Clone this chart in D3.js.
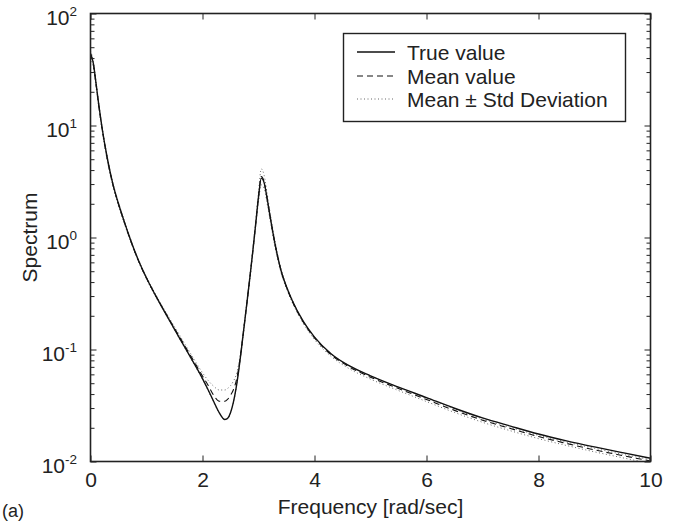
<!DOCTYPE html>
<html><head><meta charset="utf-8">
<script src="https://cdn.jsdelivr.net/npm/d3@7"></script>
<style>
html,body{margin:0;padding:0;background:#fff;}
svg{display:block;}
text{font-family:"Liberation Sans",Arial,Helvetica,sans-serif;fill:#222;}
</style></head>
<body>
<svg id="chart" width="686" height="526"></svg>
<script>
// ---- data ----
const freq = [0,0.05,0.1,0.15,0.2,0.3,0.4,0.5,0.6,0.7,0.8,0.9,1.0,1.2,1.4,1.6,1.8,
  2.0,2.1,2.2,2.3,2.4,2.45,2.5,2.55,2.6,2.65,2.7,
  2.75,2.8,2.85,2.9,2.95,3.0,3.05,3.1,3.15,3.2,3.3,3.4,3.5,3.6,
  3.8,4.0,4.3,4.6,5.0,5.5,6.0,6.5,7.0,7.5,8.0,8.5,9.0,9.5,10];
const trueValue = [44,36,23.5,15,10,5.1,3.0,2.0,1.4,1.0,0.733,0.556,0.435,0.28,0.186,0.124,0.083,
  0.055,0.0437,0.0343,0.0272,0.0237,0.0243,0.0272,0.0335,0.0452,0.0668,0.106,
  0.172,0.279,0.457,0.767,1.32,2.29,3.39,3.09,2.29,1.62,0.851,0.513,0.363,0.275,
  0.178,0.129,0.0912,0.0724,0.0582,0.0462,0.0372,0.0299,0.0245,0.0207,0.0176,0.0153,0.0135,0.0120,0.0107];
const meanValue = [43,35.5,23.2,14.8,9.9,5.05,2.97,1.98,1.39,0.99,0.728,0.553,0.434,0.281,0.188,0.127,0.086,
  0.058,0.048,0.039,0.0345,0.0345,0.036,0.039,0.0435,0.052,0.07,0.107,
  0.172,0.279,0.457,0.77,1.33,2.33,3.5,3.15,2.3,1.62,0.848,0.51,0.36,0.272,
  0.175,0.127,0.0895,0.0708,0.0566,0.0448,0.0358,0.0286,0.0234,0.0197,0.0167,0.0145,0.0127,0.0113,0.0101];
const upperValue = [46,38,24.5,15.5,10.3,5.25,3.08,2.05,1.43,1.02,0.745,0.565,0.443,0.288,0.194,0.132,0.09,
  0.062,0.053,0.047,0.0435,0.0435,0.045,0.0475,0.052,0.059,0.076,0.112,
  0.178,0.29,0.475,0.8,1.4,2.55,4.1,3.6,2.55,1.75,0.9,0.53,0.372,0.28,
  0.178,0.1295,0.0915,0.0725,0.058,0.046,0.0368,0.0294,0.024,0.0202,0.0171,0.0149,0.0131,0.0116,0.0104];
const lowerValue = [40,33,22,14.2,9.5,4.85,2.88,1.92,1.35,0.97,0.715,0.543,0.425,0.275,0.183,0.122,0.082,
  0.054,0.043,0.0338,0.027,0.0237,0.024,0.027,0.0332,0.045,0.066,0.104,
  0.167,0.27,0.44,0.74,1.26,2.1,2.95,2.75,2.07,1.5,0.8,0.49,0.35,0.265,
  0.171,0.123,0.0865,0.0683,0.0544,0.043,0.0343,0.0274,0.0224,0.0188,0.016,0.0139,0.0122,0.0108,0.0096];
const xTicks = [0,2,4,6,8,10];
const yTickExps = [2,1,0,-1,-2];
const legendLabels = ["True value","Mean value","Mean \u00B1 Std Deviation"];

// ---- layout ----
const svg = d3.select("#chart");
const L = 90.5, R = 650.5, T = 13.5, B = 461.5;
const x = d3.scaleLinear().domain([0,10]).range([L,R]);
const y = d3.scaleLog().domain([0.01,100]).range([B,T]);

svg.append("clipPath").attr("id","clip").append("rect")
  .attr("x",L).attr("y",T).attr("width",R-L).attr("height",B-T);

const line = d3.line().x(d=>x(d[0])).y(d=>y(d[1])).curve(d3.curveMonotoneX);
const series = (vals)=>freq.map((f,i)=>[f,vals[i]]);

const g = svg.append("g").attr("clip-path","url(#clip)");
g.append("path").attr("d",line(series(upperValue))).attr("fill","none")
  .attr("stroke","#666").attr("stroke-width",1).attr("stroke-dasharray","1,2.5");
g.append("path").attr("d",line(series(lowerValue))).attr("fill","none")
  .attr("stroke","#666").attr("stroke-width",1).attr("stroke-dasharray","1,2.5");
g.append("path").attr("d",line(series(meanValue))).attr("fill","none")
  .attr("stroke","#111").attr("stroke-width",1.1).attr("stroke-dasharray","6,4");
g.append("path").attr("d",line(series(trueValue))).attr("fill","none")
  .attr("stroke","#111").attr("stroke-width",1.4);

// ---- axes (inward ticks, mirrored) ----
const minorTicks = y.ticks().filter(v=>{const m=v/Math.pow(10,Math.floor(Math.log10(v)+1e-9));return Math.abs(m-1)>1e-6;});
const majorTicks = yTickExps.map(e=>Math.pow(10,e));

const axB = svg.append("g").attr("transform",`translate(0,${B})`)
  .call(d3.axisBottom(x).tickValues(xTicks).tickSize(-6).tickPadding(11).tickFormat(d3.format("d")));
const axT = svg.append("g").attr("transform",`translate(0,${T})`)
  .call(d3.axisTop(x).tickValues(xTicks).tickSize(-6).tickFormat(""));
const axL = svg.append("g").attr("transform",`translate(${L},0)`)
  .call(d3.axisLeft(y).tickValues(majorTicks).tickSize(-6).tickFormat(""));
const axLm = svg.append("g").attr("transform",`translate(${L},0)`)
  .call(d3.axisLeft(y).tickValues(minorTicks).tickSize(-4).tickFormat(""));
const axR = svg.append("g").attr("transform",`translate(${R},0)`)
  .call(d3.axisRight(y).tickValues(majorTicks).tickSize(-6).tickFormat(""));
const axRm = svg.append("g").attr("transform",`translate(${R},0)`)
  .call(d3.axisRight(y).tickValues(minorTicks).tickSize(-4).tickFormat(""));
[axB,axT,axL,axLm,axR,axRm].forEach(a=>{
  a.select(".domain").remove();
  a.selectAll(".tick line").attr("stroke","#222").attr("stroke-width",1);
});
axB.selectAll(".tick text").attr("font-size",21).attr("fill","#222")
  .attr("font-family","Liberation Sans, Arial, sans-serif");

// frame
svg.append("rect").attr("x",L).attr("y",T).attr("width",R-L).attr("height",B-T)
  .attr("fill","none").attr("stroke","#222").attr("stroke-width",1.6);

// y tick labels 10^n
const ylab = svg.append("g");
yTickExps.forEach(e=>{
  const t = ylab.append("text").attr("x",77).attr("y",y(Math.pow(10,e))+11.5)
    .attr("text-anchor","end").attr("font-size",21);
  t.append("tspan").text("10");
  t.append("tspan").attr("font-size",13.5).attr("dy",-9.5).text(String(e));
});

// axis titles
svg.append("text").attr("x",(L+R)/2).attr("y",514).attr("text-anchor","middle")
  .attr("font-size",21).text("Frequency [rad/sec]");
svg.append("text").attr("transform",`translate(37,${(T+B)/2}) rotate(-90)`)
  .attr("text-anchor","middle").attr("font-size",21).text("Spectrum");
svg.append("text").attr("x",2).attr("y",517).attr("font-size",18)
  .attr("font-family","Liberation Serif, Times New Roman, serif").text("(a)");

// legend
const lg = svg.append("g");
lg.append("rect").attr("x",343.5).attr("y",33.5).attr("width",282).attr("height",88)
  .attr("fill","#fff").attr("stroke","#222").attr("stroke-width",1.4);
const rowsY = [52,76,99];
const styles = [
  {stroke:"#111",dash:null,w:1.4},
  {stroke:"#111",dash:"6,4",w:1.1},
  {stroke:"#666",dash:"1,2.5",w:1}
];
legendLabels.forEach((lab,i)=>{
  lg.append("line").attr("x1",357).attr("x2",395).attr("y1",rowsY[i]).attr("y2",rowsY[i])
    .attr("stroke",styles[i].stroke).attr("stroke-width",styles[i].w)
    .attr("stroke-dasharray",styles[i].dash);
  lg.append("text").attr("x",407).attr("y",rowsY[i]+7.5).attr("font-size",21).text(lab);
});
</script>
</body></html>
